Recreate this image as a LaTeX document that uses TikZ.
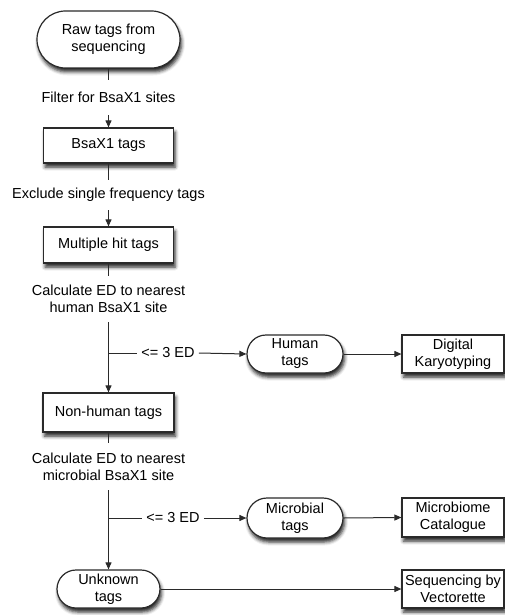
\documentclass[tikz,border=0pt]{standalone}
\usepackage{fontspec}
\setmainfont{Liberation Sans}
\usetikzlibrary{shapes.misc,arrows.meta,shadows.blur}
\definecolor{linec}{HTML}{2A2A2A}
\tikzset{
  base/.style={draw=linec, line width=1.2pt, fill=white, align=center, inner sep=0pt,
    blur shadow={shadow xshift=1.5pt, shadow yshift=-4pt, shadow blur radius=3.5pt, shadow opacity=85}},
  boxn/.style={base, rectangle},
  pill/.style={base, rounded rectangle},
  lbl/.style={align=center, inner xsep=0pt},
  conn/.style={draw=linec, line width=1pt},
  arr/.style={conn, -{Triangle[length=7pt,width=6pt]}},
}
\begin{document}
\begin{tikzpicture}[x=1pt, y=-1pt, font=\fontsize{14.5}{17}\selectfont]
\useasboundingbox (0,0) rectangle (505,615);
% main column
\node[pill, minimum width=143pt, minimum height=57pt] (raw) at (108.5,39.5) {Raw tags from\\sequencing};
\node[lbl, minimum height=35pt] (l1) at (108.5,97.5) {Filter for BsaX1 sites};
\node[boxn, minimum width=130pt, minimum height=35pt] (bsa) at (108.5,145.5) {BsaX1 tags};
\node[lbl, minimum height=30pt] (l2) at (108.5,195) {Exclude single frequency tags};
\node[boxn, minimum width=130pt, minimum height=36pt] (multi) at (108.5,245) {Multiple hit tags};
\node[lbl, minimum height=46pt] (l3) at (108.5,299) {Calculate ED to nearest\\human BsaX1 site};
\node[boxn, minimum width=131pt, minimum height=39pt] (nonh) at (108.5,412.5) {Non-human tags};
\node[lbl, minimum height=47pt] (l4) at (108.5,466.5) {Calculate ED to nearest\\microbial BsaX1 site};
\node[pill, minimum width=103pt, minimum height=38pt] (unk) at (108.5,589) {Unknown\\tags};
% right side
\node[pill, minimum width=96pt, minimum height=38pt] (human) at (295,354) {Human\\tags};
\node[boxn, minimum width=102pt, minimum height=38pt] (dk) at (453,354) {Digital\\Karyotyping};
\node[pill, minimum width=96pt, minimum height=40pt] (micro) at (295,518) {Microbial\\tags};
\node[boxn, minimum width=102pt, minimum height=39pt] (mc) at (453,517.5) {Microbiome\\Catalogue};
\node[boxn, minimum width=102pt, minimum height=38pt] (seq) at (453,589) {Sequencing by\\Vectorette};
% branch labels
\coordinate (b1) at (108.5,353);
\coordinate (b2) at (108.5,518);
\node[lbl, inner xsep=4pt] (e1) at (168,353) {<= 3 ED};
\node[lbl, inner xsep=4pt] (e2) at (173,518) {<= 3 ED};
% connectors
\draw[conn] (raw.south) -- (l1.north);
\draw[arr] (l1.south) -- (bsa.north);
\draw[conn] (bsa.south) -- (l2.north);
\draw[arr] (l2.south) -- (multi.north);
\draw[conn] (multi.south) -- (l3.north);
\draw[arr] (l3.south) -- (nonh.north);
\draw[conn] (nonh.south) -- (l4.north);
\draw[arr] (l4.south) -- (unk.north);
\draw[conn] (b1) -- (e1.west);
\draw[arr] (e1.east) -- (human.west);
\draw[conn] (b2) -- (e2.west);
\draw[arr] (e2.east) -- (micro.west);
\draw[arr] (human.east) -- (dk.west);
\draw[arr] (micro.east) -- (mc.west);
\draw[arr] (unk.east) -- (seq.west);
\end{tikzpicture}
\end{document}
